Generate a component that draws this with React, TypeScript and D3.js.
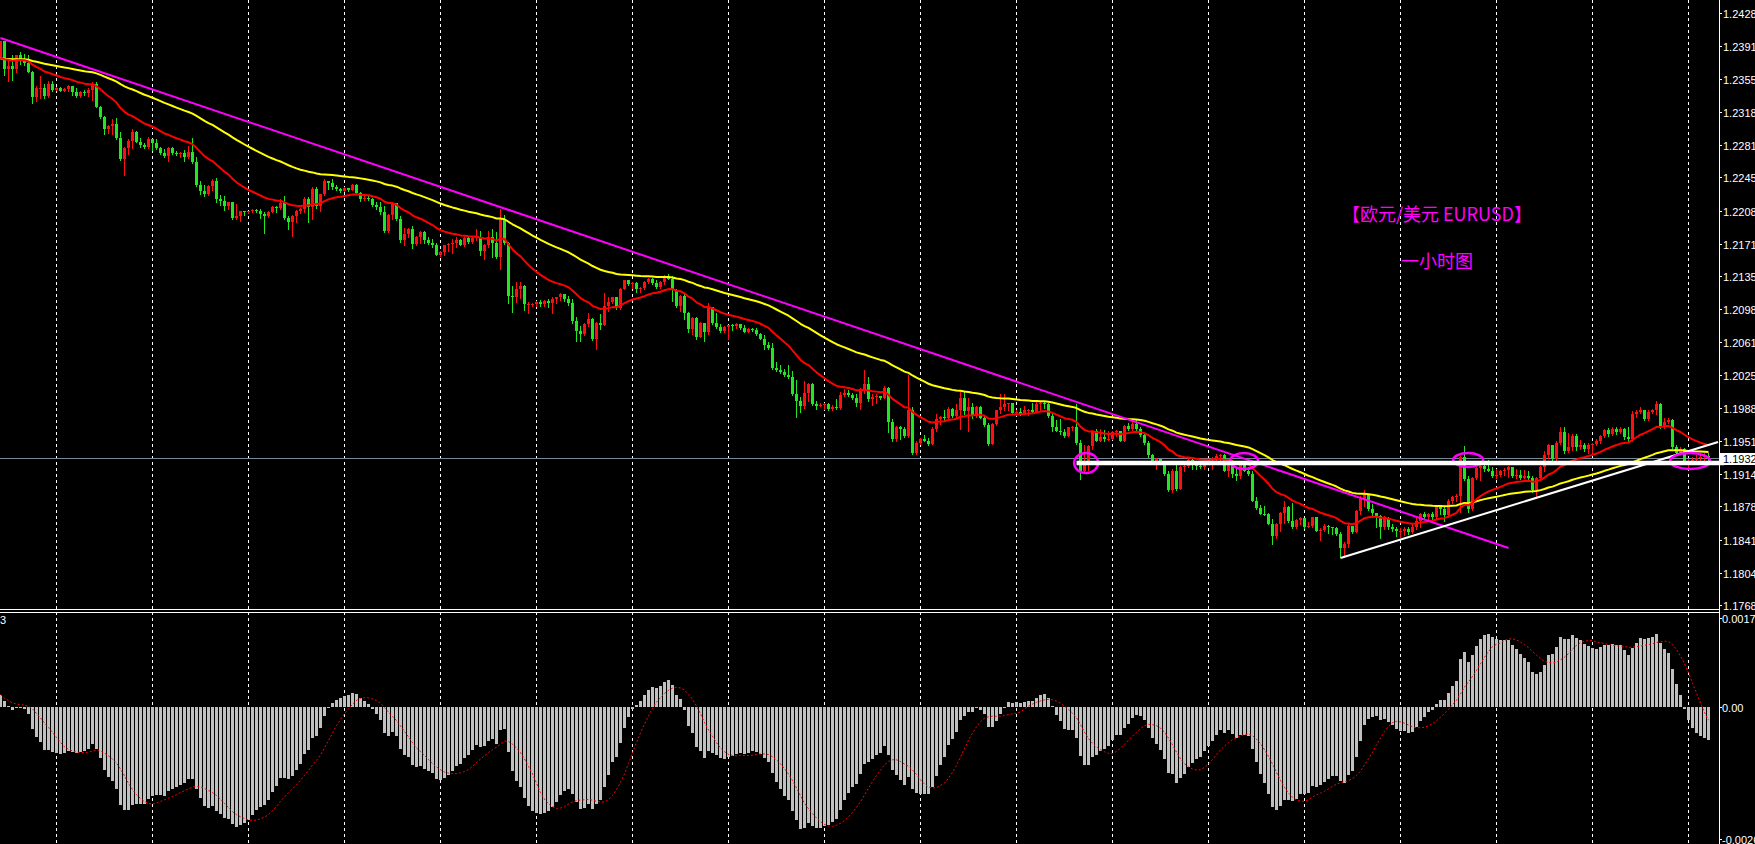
import React, { useMemo } from "react";
import * as d3 from "d3";

// ---------- DATA (prices in 1e-4 units, EURUSD H1) ----------
const firstOpen = 12379;

const closes = [
  12397, 12366, 12369, 12366, 12381, 12377, 12373, 12363, 12335, 12345,
  12345, 12336, 12349, 12343, 12345, 12341, 12344, 12347, 12340, 12336,
  12340, 12339, 12343, 12349, 12324, 12312, 12299, 12302, 12304, 12289,
  12265, 12278, 12286, 12296, 12285, 12281, 12279, 12288, 12283, 12278,
  12272, 12269, 12278, 12272, 12271, 12272, 12268, 12273, 12262, 12237,
  12230, 12226, 12235, 12241, 12221, 12219, 12213, 12217, 12200, 12202,
  12208, 12206, 12207, 12209, 12208, 12204, 12202, 12206, 12212, 12211,
  12216, 12200, 12195, 12202, 12208,
  12210, 12221, 12212, 12232, 12213, 12226, 12241, 12239, 12234, 12232,
  12230, 12233, 12231, 12236, 12228, 12221, 12222, 12221, 12214, 12212,
  12206, 12185, 12203, 12216, 12198, 12175, 12182, 12187, 12171, 12179,
  12184, 12175, 12172, 12169, 12158, 12162, 12169, 12171, 12172, 12175,
  12169, 12177, 12173, 12177, 12179, 12163, 12170, 12178, 12172, 12156,
  12198, 12172, 12113, 12111, 12120, 12124, 12104, 12104, 12104, 12106,
  12104, 12107, 12105, 12109, 12111, 12115, 12109, 12105, 12085, 12074,
  12070, 12081, 12087,
  12065, 12083, 12080, 12102, 12106, 12111, 12099, 12121, 12130, 12126,
  12127, 12120, 12122, 12128, 12132, 12127, 12123, 12128, 12135, 12132,
  12119, 12102, 12113, 12094, 12076, 12088, 12067, 12083, 12072, 12100,
  12083, 12078, 12074, 12078, 12080, 12079, 12081, 12077, 12073, 12076,
  12075, 12070, 12065, 12058, 12055, 12032, 12030, 12028, 12024, 12022,
  12003, 11996, 11990, 12005, 12014, 11992, 11990, 11991, 11992, 11987,
  11989, 11988, 12002, 12005, 12002, 11999, 11993, 12009, 12014, 11998,
  12000, 12001, 11999,
  12010, 11972, 11953, 11966, 11964, 11956, 11986, 11937, 11949, 11953,
  11951, 11948, 11964, 11976, 11978, 11977, 11987, 11979, 11985, 11999,
  11984, 11989, 11979, 11989, 11977, 11969, 11948, 11970, 11985, 11989,
  11992, 11993, 11982, 11983, 11981, 11985, 11986, 11983, 11992, 11993,
  11992, 11979, 11966, 11962, 11961, 11956, 11966, 11967, 11949, 11918,
  11929, 11945, 11962, 11951, 11955, 11953, 11953, 11961, 11962, 11951,
  11968, 11964, 11970, 11964, 11958, 11949, 11935, 11927, 11931, 11925,
  11914, 11896,
  11918, 11897, 11922, 11923, 11930, 11925, 11923, 11922, 11929, 11930,
  11932, 11934, 11935, 11918, 11929, 11914, 11912, 11925, 11918, 11914,
  11884, 11876, 11870, 11869, 11858, 11845, 11858, 11871, 11877, 11862,
  11855, 11863, 11865, 11855, 11856, 11866, 11851, 11852, 11856, 11855,
  11854, 11847, 11832, 11836, 11856,
  11849, 11873, 11886, 11892, 11875, 11871, 11867, 11855, 11865, 11855,
  11853, 11850, 11851, 11853, 11849, 11855, 11862, 11870, 11866, 11870,
  11866, 11877, 11875, 11868, 11884, 11888, 11890, 11933, 11909, 11875,
  11910, 11921, 11923, 11920, 11918, 11912, 11913, 11917, 11919, 11922,
  11912, 11913, 11910, 11912, 11910, 11896, 11910, 11922, 11935, 11946,
  11931, 11949, 11961, 11940, 11944, 11957, 11944, 11946, 11942, 11946,
  11948, 11951, 11957, 11963, 11959, 11964, 11961, 11964, 11955, 11953,
  11981, 11983, 11985, 11976, 11983, 11985, 11992, 11966, 11972, 11974,
  11944, 11938, 11942, 11929, 11929, 11930, 11932, 11933, 11934, 11932,
];

const highs = [
  12397, 12397, 12377, 12382, 12381, 12385, 12383, 12381, 12364, 12347,
  12358, 12349, 12352, 12352, 12346, 12346, 12345, 12348, 12347, 12345,
  12341, 12342, 12345, 12351, 12351, 12325, 12314, 12303, 12310, 12311,
  12296, 12279, 12288, 12299, 12297, 12289, 12283, 12290, 12288, 12288,
  12279, 12277, 12279, 12279, 12274, 12273, 12276, 12280, 12289, 12268,
  12241, 12236, 12236, 12243, 12244, 12225, 12224, 12218, 12218, 12215,
  12208, 12208, 12208, 12210, 12210, 12210, 12206, 12208, 12213, 12213,
  12221, 12224, 12202, 12203, 12209,
  12211, 12223, 12223, 12234, 12234, 12226, 12243, 12241, 12243, 12236,
  12233, 12234, 12233, 12238, 12238, 12229, 12226, 12224, 12222, 12218,
  12217, 12213, 12204, 12217, 12211, 12202, 12189, 12189, 12191, 12180,
  12185, 12185, 12179, 12176, 12172, 12163, 12169, 12172, 12176, 12178,
  12176, 12178, 12180, 12178, 12187, 12185, 12171, 12185, 12187, 12184,
  12210, 12203, 12173, 12124, 12128, 12128, 12125, 12106, 12105, 12107,
  12108, 12108, 12109, 12111, 12112, 12116, 12115, 12113, 12109, 12089,
  12079, 12082, 12094,
  12088, 12084, 12093, 12116, 12111, 12112, 12111, 12122, 12131, 12131,
  12128, 12128, 12123, 12129, 12133, 12133, 12130, 12129, 12136, 12137,
  12135, 12120, 12114, 12115, 12095, 12089, 12089, 12084, 12083, 12105,
  12100, 12094, 12081, 12079, 12080, 12081, 12083, 12081, 12080, 12077,
  12077, 12077, 12071, 12069, 12061, 12060, 12039, 12036, 12031, 12036,
  12029, 12019, 12000, 12018, 12016, 12016, 11995, 11993, 11993, 11993,
  11991, 11998, 12006, 12009, 12008, 12004, 12003, 12010, 12030, 12022,
  12003, 12003, 12001,
  12012, 12011, 11975, 11968, 11968, 11967, 12024, 11989, 11951, 11954,
  11958, 11954, 11966, 11981, 11979, 11985, 11989, 11988, 11992, 12006,
  12006, 11999, 11993, 11990, 11990, 11979, 11971, 11971, 11986, 12003,
  12003, 11993, 11990, 11986, 11988, 11990, 11987, 11993, 11994, 11994,
  11994, 11993, 11983, 11974, 11975, 11964, 11967, 11968, 11992, 11952,
  11946, 11946, 11963, 11964, 11964, 11963, 11962, 11962, 11963, 11961,
  11969, 11971, 11973, 11975, 11966, 11959, 11951, 11936, 11932, 11930,
  11923, 11917,
  11920, 11925, 11923, 11925, 11933, 11933, 11928, 11927, 11930, 11931,
  11933, 11936, 11936, 11936, 11931, 11930, 11921, 11927, 11927, 11922,
  11918, 11888, 11879, 11878, 11871, 11864, 11860, 11872, 11884, 11878,
  11882, 11864, 11866, 11864, 11861, 11866, 11866, 11854, 11858, 11857,
  11855, 11855, 11849, 11838, 11858,
  11856, 11874, 11890, 11896, 11890, 11881, 11869, 11868, 11867, 11866,
  11858, 11855, 11854, 11855, 11855, 11858, 11865, 11871, 11872, 11871,
  11872, 11879, 11879, 11878, 11886, 11890, 11892, 11934, 11945, 11912,
  11911, 11922, 11929, 11925, 11930, 11922, 11920, 11919, 11921, 11923,
  11922, 11920, 11919, 11919, 11917, 11912, 11911, 11923, 11940, 11948,
  11946, 11951, 11966, 11966, 11960, 11959, 11959, 11952, 11949, 11949,
  11949, 11953, 11958, 11964, 11965, 11966, 11966, 11966, 11965, 11966,
  11984, 11985, 11989, 11985, 11985, 11987, 11995, 11993, 11977, 11977,
  11976, 11946, 11944, 11943, 11931, 11933, 11935, 11936, 11937, 11937,
];

const lows = [
  12379, 12359, 12353, 12354, 12362, 12371, 12370, 12362, 12328, 12330,
  12334, 12334, 12335, 12341, 12343, 12341, 12341, 12341, 12337, 12335,
  12335, 12337, 12336, 12331, 12323, 12311, 12293, 12294, 12293, 12288,
  12264, 12248, 12271, 12278, 12284, 12279, 12278, 12278, 12276, 12277,
  12271, 12268, 12263, 12271, 12270, 12268, 12263, 12267, 12261, 12235,
  12226, 12224, 12225, 12231, 12217, 12214, 12209, 12210, 12199, 12199,
  12196, 12203, 12205, 12206, 12206, 12200, 12183, 12201, 12206, 12206,
  12210, 12199, 12187, 12180, 12195,
  12205, 12206, 12195, 12198, 12211, 12207, 12225, 12232, 12232, 12231,
  12229, 12230, 12230, 12231, 12227, 12219, 12220, 12220, 12213, 12210,
  12204, 12184, 12184, 12198, 12197, 12173, 12169, 12178, 12166, 12169,
  12172, 12172, 12171, 12167, 12158, 12157, 12158, 12163, 12161, 12167,
  12169, 12168, 12172, 12172, 12175, 12158, 12154, 12167, 12156, 12155,
  12143, 12171, 12105, 12095, 12106, 12110, 12097, 12094, 12102, 12101,
  12101, 12102, 12100, 12094, 12105, 12108, 12107, 12103, 12083, 12063,
  12063, 12069, 12079,
  12064, 12053, 12076, 12080, 12096, 12105, 12098, 12098, 12120, 12125,
  12122, 12117, 12117, 12121, 12127, 12126, 12122, 12122, 12126, 12132,
  12107, 12100, 12096, 12087, 12073, 12070, 12065, 12067, 12062, 12070,
  12081, 12077, 12072, 12073, 12065, 12075, 12077, 12076, 12072, 12072,
  12074, 12069, 12065, 12054, 12054, 12031, 12029, 12027, 12023, 12021,
  12002, 11978, 11983, 11988, 11995, 11991, 11987, 11990, 11987, 11986,
  11985, 11987, 11987, 12001, 12001, 11998, 11990, 11987, 12005, 11996,
  11991, 11993, 11998,
  11999, 11961, 11951, 11951, 11953, 11955, 11955, 11936, 11936, 11948,
  11951, 11946, 11948, 11962, 11970, 11974, 11976, 11978, 11977, 11964,
  11981, 11962, 11977, 11978, 11977, 11968, 11947, 11948, 11969, 11982,
  11985, 11986, 11981, 11980, 11980, 11984, 11980, 11982, 11986, 11984,
  11988, 11978, 11962, 11962, 11959, 11955, 11956, 11963, 11948, 11909,
  11921, 11919, 11942, 11951, 11954, 11951, 11952, 11956, 11956, 11951,
  11951, 11963, 11963, 11963, 11957, 11948, 11933, 11926, 11920, 11925,
  11913, 11895,
  11894, 11896, 11897, 11917, 11922, 11920, 11920, 11921, 11920, 11925,
  11920, 11926, 11929, 11917, 11912, 11911, 11907, 11910, 11917, 11913,
  11884, 11875, 11870, 11868, 11858, 11836, 11843, 11850, 11859, 11861,
  11854, 11854, 11858, 11854, 11855, 11855, 11850, 11840, 11850, 11848,
  11847, 11846, 11821, 11822, 11833,
  11848, 11849, 11870, 11878, 11874, 11868, 11855, 11843, 11853, 11853,
  11851, 11845, 11844, 11846, 11847, 11848, 11853, 11855, 11864, 11864,
  11864, 11865, 11870, 11862, 11866, 11882, 11884, 11872, 11907, 11872,
  11874, 11909, 11907, 11918, 11917, 11911, 11910, 11912, 11913, 11911,
  11911, 11910, 11909, 11910, 11909, 11894, 11888, 11907, 11918, 11932,
  11929, 11930, 11948, 11938, 11939, 11941, 11941, 11942, 11940, 11938,
  11936, 11946, 11949, 11955, 11957, 11958, 11959, 11960, 11953, 11951,
  11951, 11978, 11982, 11974, 11974, 11982, 11981, 11965, 11965, 11971,
  11943, 11937, 11937, 11928, 11921, 11925, 11926, 11926, 11926, 11928,
];

// indicator settings and seeds (values of the lines at the left edge)
const emaFastPeriod = 20; // red
const emaSlowPeriod = 60; // yellow
const emaFastSeed = 12376;
const emaSlowSeed = 12377;
const macdSettings = { fast: 12, slow: 26, signal: 9, fastSeed: 12378, slowSeed: 12377 };

// axis ticks
const priceTicks = [
  1.2428, 1.2391, 1.2355, 1.2318, 1.2281, 1.2245, 1.2208, 1.2171, 1.2135, 1.2098,
  1.2061, 1.2025, 1.1988, 1.1951, 1.1914, 1.1878, 1.1841, 1.1804, 1.1768,
];
const macdTicks = [0.00175, 0, -0.0026];
const macdTickLabels = ["0.00175", "0.00", "-0.00260"];
const lastPrice = 1.19323;
const barsPerDay = 24;
const firstSeparatorBar = 14;

// drawn objects (bar index, price)
const trendLines = [
  { from: [0, 1.24004], to: [377, 1.18316], color: "#ff00ff", width: 2 },
  { from: [335, 1.18204], to: [429.4, 1.19498], color: "#ffffff", width: 2 },
];
const supportLine = { from: 269, to: 430.9, price: 1.19264, color: "#ffffff", width: 4.5 };
const ellipses = [
  { bar: 271.4, price: 1.19264, rxBars: 3, ry: 0.00112 },
  { bar: 310.9, price: 1.19286, rxBars: 3.5, ry: 0.00089 },
  { bar: 366.9, price: 1.19297, rxBars: 3.75, ry: 0.00078 },
  { bar: 422.4, price: 1.19286, rxBars: 5, ry: 0.00089 },
];
const titleLines = [
  { text: "【欧元/美元 EURUSD】", bar: 359.1, price: 1.22053 },
  { text: "一小时图", bar: 359.1, price: 1.21528 },
];

// ---------- LAYOUT ----------
const W = 1755;
const H = 844;
const AXIS_X = 1719;
const MAIN_BOTTOM = 609;
const MACD_TOP = 612;

function ema(values: number[], period: number, seed: number) {
  const k = 2 / (period + 1);
  let prev = seed;
  return values.map((v) => (prev = prev + k * (v - prev)));
}

export default function App() {
  const n = closes.length;
  const xs = d3.scaleLinear().domain([0, 1]).range([0.5, 4.5]);
  const yP = d3.scaleLinear().domain([1.1768, 1.2428]).range([605, 13.3]);
  const yM = d3.scaleLinear().domain([-0.0026, 0.00175]).range([839, 618]);

  const bars = useMemo(
    () =>
      closes.map((c, i) => {
        const o = i === 0 ? firstOpen : closes[i - 1];
        const h = Math.max(highs[i], o, c);
        const l = Math.min(lows[i], o, c);
        return { i, o: o / 1e4, c: c / 1e4, h: h / 1e4, l: l / 1e4 };
      }),
    []
  );

  const redMA = useMemo(() => ema(closes, emaFastPeriod, emaFastSeed).map((v) => v / 1e4), []);
  const yellowMA = useMemo(() => ema(closes, emaSlowPeriod, emaSlowSeed).map((v) => v / 1e4), []);
  const { macd, signal } = useMemo(() => {
    const f = ema(closes, macdSettings.fast, macdSettings.fastSeed);
    const s = ema(closes, macdSettings.slow, macdSettings.slowSeed);
    const m = f.map((v, i) => (v - s[i]) / 1e4);
    const sig = m.map((_, i) => {
      const a = Math.max(0, i - macdSettings.signal + 1);
      return d3.mean(m.slice(a, i + 1)) as number;
    });
    return { macd: m, signal: sig };
  }, []);

  const line = d3
    .line<number>()
    .x((_, i) => xs(i))
    .y((v) => yP(v));
  const sigLine = d3
    .line<number>()
    .x((_, i) => xs(i))
    .y((v) => yM(v));

  const separators = d3.range(firstSeparatorBar, n, barsPerDay);
  const fontAxis = "'Liberation Sans', Arial, sans-serif";
  const up = "#ff1010";
  const down = "#22e622";

  return (
    <svg
      width={W}
      height={H}
      style={{ position: "fixed", left: 0, top: 0, background: "#000", display: "block" }}
    >
      <defs>
        <clipPath id="mainClip">
          <rect x={0} y={0} width={AXIS_X} height={MAIN_BOTTOM} />
        </clipPath>
        <clipPath id="macdClip">
          <rect x={0} y={MACD_TOP + 1} width={AXIS_X} height={H - MACD_TOP} />
        </clipPath>
      </defs>
      <rect x={0} y={0} width={W} height={H} fill="#000" />

      {/* period separators */}
      {separators.map((b) => (
        <line
          key={"sep" + b}
          x1={xs(b)}
          x2={xs(b)}
          y1={0}
          y2={H}
          stroke="#ffffff"
          strokeWidth={1}
          strokeDasharray="3 3"
        />
      ))}

      {/* main chart */}
      <g clipPath="url(#mainClip)">
        <line x1={0} x2={AXIS_X} y1={Math.round(yP(lastPrice)) + 0.5} y2={Math.round(yP(lastPrice)) + 0.5} stroke="#778899" strokeWidth={1} />
        {bars.map((b) => {
          const col = b.c >= b.o ? up : down;
          const top = Math.round(yP(Math.max(b.o, b.c)));
          const bot = Math.round(yP(Math.min(b.o, b.c)));
          const x = xs(b.i);
          return (
            <g key={b.i}>
              <line x1={x} x2={x} y1={Math.round(yP(b.h))} y2={Math.round(yP(b.l)) + 1} stroke={col} strokeWidth={1} />
              <rect x={x - 1.5} y={top} width={3} height={Math.max(1, bot - top)} fill={col} />
            </g>
          );
        })}
        <path d={line(yellowMA) || ""} fill="none" stroke="#ffff00" strokeWidth={2} strokeLinejoin="round" />
        <path d={line(redMA) || ""} fill="none" stroke="#ff0000" strokeWidth={2} strokeLinejoin="round" />
        {trendLines.map((t, k) => (
          <line
            key={"tl" + k}
            x1={xs(t.from[0])}
            y1={yP(t.from[1])}
            x2={xs(t.to[0])}
            y2={yP(t.to[1])}
            stroke={t.color}
            strokeWidth={t.width}
          />
        ))}
        {ellipses.map((e, k) => (
          <ellipse
            key={"el" + k}
            cx={xs(e.bar)}
            cy={yP(e.price)}
            rx={xs(e.rxBars) - xs(0)}
            ry={yP(e.price - e.ry) - yP(e.price)}
            fill="none"
            stroke="#ff00ff"
            strokeWidth={2.5}
          />
        ))}
        {titleLines.map((t, k) => (
          <text
            key={"tt" + k}
            x={xs(t.bar)}
            y={yP(t.price)}
            fill="#ff00ff"
            fontSize={18}
            textAnchor="middle"
            dominantBaseline="central"
            fontFamily="'Noto Sans CJK SC', 'Liberation Serif', serif"
          >
            {t.text}
          </text>
        ))}
      </g>
      {/* support band runs onto the axis */}
      <line
        x1={xs(supportLine.from)}
        x2={xs(supportLine.to)}
        y1={yP(supportLine.price)}
        y2={yP(supportLine.price)}
        stroke={supportLine.color}
        strokeWidth={supportLine.width}
      />

      {/* MACD panel */}
      <g clipPath="url(#macdClip)">
        {macd.map((v, i) => {
          const y0 = Math.round(yM(0));
          const y1 = Math.round(yM(v));
          return (
            <rect
              key={"m" + i}
              x={xs(i) - 1.5}
              y={Math.min(y0, y1)}
              width={3}
              height={Math.max(1, Math.abs(y1 - y0))}
              fill="#c0c0c0"
            />
          );
        })}
        <path d={sigLine(signal) || ""} fill="none" stroke="#ff0000" strokeWidth={1} strokeDasharray="2 2" />
      </g>
      <text x={0} y={624} fill="#ffffff" fontSize={11} fontFamily={fontAxis}>
        3
      </text>

      {/* panel borders */}
      <line x1={0} x2={AXIS_X} y1={MAIN_BOTTOM + 0.5} y2={MAIN_BOTTOM + 0.5} stroke="#fff" />
      <line x1={0} x2={AXIS_X} y1={MACD_TOP + 0.5} y2={MACD_TOP + 0.5} stroke="#fff" />
      <line x1={AXIS_X + 0.5} x2={AXIS_X + 0.5} y1={0} y2={H} stroke="#fff" />

      {/* price axis */}
      {priceTicks.map((t) => {
        const y = Math.round(yP(t)) + 0.5;
        return (
          <g key={"pt" + t}>
            <line x1={AXIS_X} x2={AXIS_X + 3} y1={y} y2={y} stroke="#fff" />
            <text x={AXIS_X + 4} y={y} fill="#fff" fontSize={11} fontFamily={fontAxis} dominantBaseline="central">
              {t.toFixed(5)}
            </text>
          </g>
        );
      })}
      <rect x={AXIS_X + 1} y={Math.round(yP(lastPrice)) - 5} width={W - AXIS_X} height={12} fill="#fff" />
      <text
        x={AXIS_X + 4}
        y={Math.round(yP(lastPrice)) + 1}
        fill="#000"
        fontSize={11}
        fontFamily={fontAxis}
        dominantBaseline="central"
      >
        {lastPrice.toFixed(5)}
      </text>

      {/* MACD axis */}
      {macdTicks.map((t, k) => {
        const y = Math.round(yM(t)) + 0.5;
        return (
          <g key={"mt" + k}>
            <line x1={AXIS_X} x2={AXIS_X + 3} y1={y} y2={y} stroke="#fff" />
            <text x={AXIS_X + 3} y={y} fill="#fff" fontSize={11} fontFamily={fontAxis} dominantBaseline="central">
              {macdTickLabels[k]}
            </text>
          </g>
        );
      })}
    </svg>
  );
}
